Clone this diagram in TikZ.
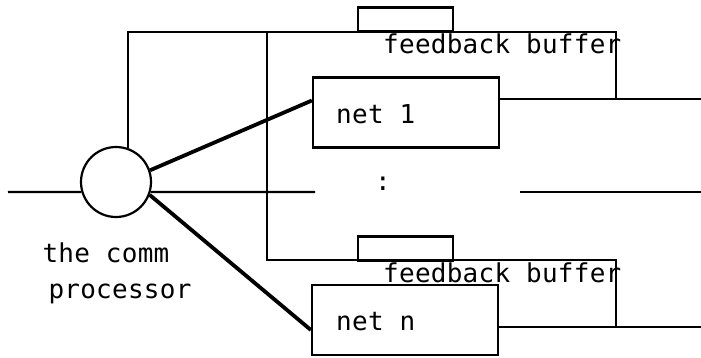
\documentclass[tikz,border=0pt]{standalone}
\usepackage{fontspec}
\newfontfamily\plotfont[LetterSpace=1]{DejaVu Sans Mono}
\usetikzlibrary{positioning}
\tikzset{netbox/.style={draw, line width=2.2pt,
  minimum width=186pt, minimum height=70pt}}
\tikzset{bufbox/.style={draw, line width=2.2pt,
  minimum width=95pt, minimum height=24pt}}
\tikzset{wire/.style={line width=2.2pt}}
\tikzset{link/.style={line width=3.8pt}}
\tikzset{lbl/.style={font=\plotfont\fontsize{26}{30}\selectfont, inner sep=0pt}}

\begin{document}
\begin{tikzpicture}[x=1pt,y=-1pt]
      \useasboundingbox (0,0) rectangle (701,357);

      \node [circle, draw, line width=2.2pt, minimum size=70pt, inner sep=0pt] (proc) at (116,182) {};
      \node [netbox] (net1) at (406,112.5) {};
      \node [netbox] (netn) at (405,320) {};
      \node [bufbox] (buf1) at (405.5,19.5) {};
      \node [bufbox] (bufn) at (405.5,248.5) {};

      \coordinate (in) at (8,192);
      \coordinate (gap) at (315,192);
      \coordinate (far) at (520,192);
      \coordinate (end) at (701,192);
      \coordinate (out1) at (701,99);
      \coordinate (outn) at (701,327);
      \coordinate (tr) at (616,32);
      \coordinate (tj) at (267,32);
      \coordinate (br) at (616,260);

      \draw [wire] (in) -- (proc.196);
      \draw [wire] (proc.-16) -- (gap);
      \draw [wire] (far) -- (end);
      \draw [wire] (proc.70) |- (tr) -- (tr |- out1);
      \draw [wire] (tj) |- (br) -- (br |- outn);
      \draw [wire] (net1.east |- out1) -- (out1);
      \draw [wire] (netn.east |- outn) -- (outn);
      \draw [link] (proc.19) -- ([yshift=12pt]net1.west);
      \draw [link] (proc.-21) -- ([yshift=-10pt]netn.west);

      \node [lbl, anchor=base west] (net1txt) at (336,123) {net 1};
      \node [lbl, anchor=base west] (netntxt) at (336,330) {net n};
      \node [lbl, anchor=base west] (fb1) at (383,53) {feedback buffer};
      \node [lbl, anchor=base west] (fbn) at (383,282) {feedback buffer};
      \node [lbl] (dots) at (383,184) {:};
      \node [lbl, anchor=base] (proc1) at (106,262) {the comm};
      \node [lbl, anchor=base] (proc2) at (120,298) {processor};
    \end{tikzpicture}
\end{document}
